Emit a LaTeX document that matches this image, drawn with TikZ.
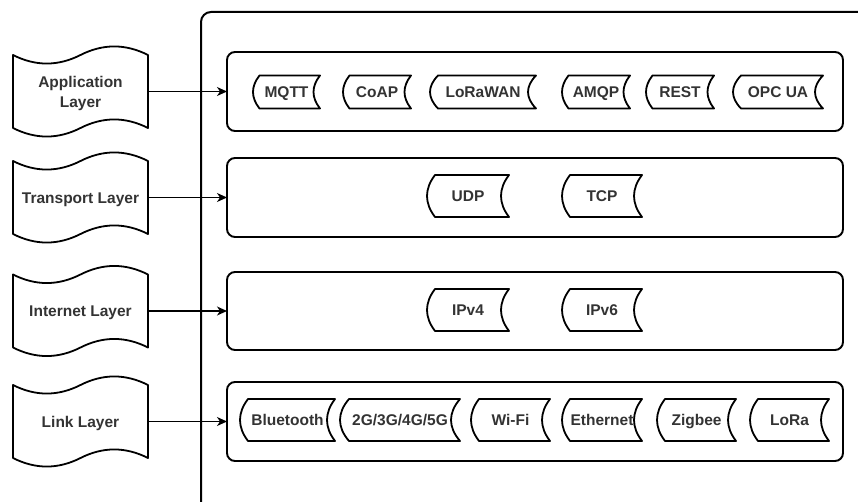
\documentclass[tikz,border=0pt]{standalone}
\usepackage{fontspec}
\setmainfont{Liberation Sans}
\usetikzlibrary{arrows.meta,calc}

% outline of a "stored data" symbol around a node: convex left side, concave right side
\newcommand\storeoutline[2]{%
  \draw[storeedge] ([xshift=#2pt]#1.north west) -- (#1.north east)
    .. controls ([xshift=-1.333*#2pt]$(#1.north east)!1/3!(#1.south east)$)
            and ([xshift=-1.333*#2pt]$(#1.north east)!2/3!(#1.south east)$) .. (#1.south east)
    -- ([xshift=#2pt]#1.south west)
    .. controls ([xshift=-0.333*#2pt]$(#1.north west)!2/3!(#1.south west)$)
            and ([xshift=-0.333*#2pt]$(#1.north west)!1/3!(#1.south west)$) .. ([xshift=#2pt]#1.north west)
    -- cycle;}

% wavy punched-tape outline around a 135 x 92 layer node
\newcommand\tapeoutline[1]{%
  \begin{scope}[shift={(#1.north west)}]
    \draw[tapeedge] (0,9.5) .. controls (22.5,20.9) and (45,20.9) .. (67.5,9.5)
      .. controls (90,-1.9) and (112.5,-1.9) .. (135,9.5)
      -- (135,82.5) .. controls (112.5,71.1) and (90,71.1) .. (67.5,82.5)
      .. controls (45,93.9) and (22.5,93.9) .. (0,82.5) -- cycle;
  \end{scope}}

\tikzset{
  txt/.style={font=\bfseries\fontsize{15.5}{20}\selectfont, text=black!80,
              text height=11.1pt, text depth=0pt},
  frame/.style={draw, line width=2pt, rounded corners=10pt, inner sep=0pt, outer sep=0pt},
  layerbox/.style={draw, line width=1.9pt, rounded corners=8pt, inner sep=0pt, outer sep=0pt,
                   minimum width=616pt},
  tapenode/.style={txt, align=center, inner sep=0pt, outer sep=0pt,
                   minimum width=135pt, minimum height=92pt},
  tapeedge/.style={line width=1.8pt, line join=round},
  store/.style={txt, inner sep=0pt, outer sep=0pt, minimum height=42pt},
  storesmall/.style={store, minimum height=33pt},
  storeedge/.style={line width=1.8pt, line join=round},
  arr/.style={line width=1.3pt, -{Stealth[length=10pt, width=9pt, inset=3pt]}},
}

\begin{document}
\begin{tikzpicture}[x=1pt, y=-1pt]
  \useasboundingbox (0,0) rectangle (858,502);
  \clip (0,0) rectangle (858,502);

  % enclosing frame, running off the right and bottom edges
  \node[frame, minimum width=700pt, minimum height=560pt, anchor=north west] (stack) at (201,12) {};

  % layer containers
  \node[layerbox, minimum height=79pt] (appB) at (535,91.5) {};
  \node[layerbox, minimum height=79pt] (trB)  at (535,197.5) {};
  \node[layerbox, minimum height=78pt] (inB)  at (535,311) {};
  \node[layerbox, minimum height=79pt] (lkB)  at (535,421.5) {};

  % layer labels (two-line label: height spans both lines)
  \node[tapenode, text height=31.1pt] (appL) at (80.5,91.5) {Application\\Layer};
  \node[tapenode] (trL)  at (80.5,197.5) {Transport Layer};
  \node[tapenode] (inL)  at (80.5,311) {Internet Layer};
  \node[tapenode] (lkL)  at (80.5,421.5) {Link Layer};
  \tapeoutline{appL}
  \tapeoutline{trL}
  \tapeoutline{inL}
  \tapeoutline{lkL}

  \draw[arr] (appL.east) -- (appB.west);
  \draw[arr] (trL.east)  -- (trB.west);
  \draw[arr] (inL.east)  -- (inB.west);
  \draw[arr] (lkL.east)  -- (lkB.west);

  % application protocols
  \node[storesmall, minimum width=67pt]  (mqtt)  at (286.5,92) {MQTT};
  \node[storesmall, minimum width=68pt]  (coap)  at (377,92)   {CoAP};
  \node[storesmall, minimum width=106pt] (lorawan) at (483,92) {LoRaWAN};
  \node[storesmall, minimum width=68pt]  (amqp)  at (596,92)   {AMQP};
  \node[storesmall, minimum width=68pt]  (rest)  at (680,92)   {REST};
  \node[storesmall, minimum width=90pt]  (opcua) at (778,92)   {OPC UA};
  \storeoutline{mqtt}{6.5}
  \storeoutline{coap}{6.5}
  \storeoutline{lorawan}{8}
  \storeoutline{amqp}{6.5}
  \storeoutline{rest}{6.5}
  \storeoutline{opcua}{8}

  % transport protocols
  \node[store, minimum width=82pt] (udp) at (468,196) {UDP};
  \node[store, minimum width=80pt] (tcp) at (602,196) {TCP};
  \storeoutline{udp}{8}
  \storeoutline{tcp}{8}

  % internet protocols
  \node[store, minimum width=82pt] (ipv4) at (468,310) {IPv4};
  \node[store, minimum width=80pt] (ipv6) at (602,310) {IPv6};
  \storeoutline{ipv4}{8}
  \storeoutline{ipv6}{8}

  % link technologies
  \node[store, minimum width=95pt]  (bt)    at (287.5,420) {Bluetooth};
  \node[store, minimum width=120pt] (cell)  at (400,420)   {2G/3G/4G/5G};
  \node[store, minimum width=79pt]  (wifi)  at (510.5,420) {Wi-Fi};
  \node[store, minimum width=80pt]  (eth)   at (602,420)   {Ethernet};
  \node[store, minimum width=79pt]  (zig)   at (696.5,420) {Zigbee};
  \node[store, minimum width=79pt]  (lora)  at (789.5,420) {LoRa};
  \storeoutline{bt}{8}
  \storeoutline{cell}{9}
  \storeoutline{wifi}{8}
  \storeoutline{eth}{8}
  \storeoutline{zig}{8}
  \storeoutline{lora}{8}
\end{tikzpicture}
\end{document}
